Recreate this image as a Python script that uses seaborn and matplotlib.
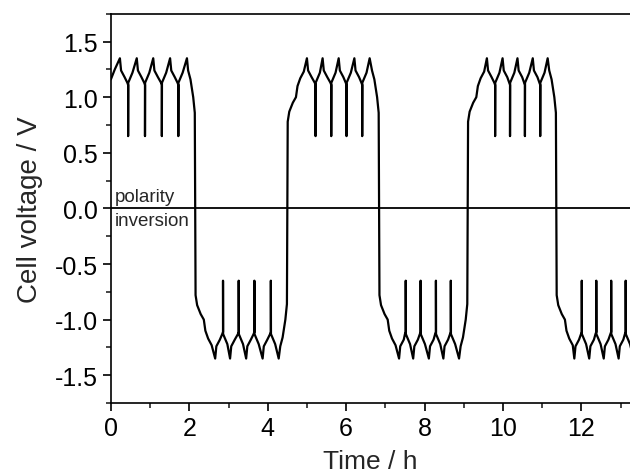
import numpy as np
import pandas as pd
import seaborn as sns
import matplotlib.pyplot as plt
from matplotlib.ticker import MultipleLocator

# polarity of each half cycle and the times where the cell voltage flips
phase_signs = [1, -1, 1, -1, 1, -1]
switch_times = [2.15, 4.50, 6.84, 9.10, 11.36]

# times of the five peaks (troughs) in each half cycle
extreme_times = [
    [0.23, 0.66, 1.08, 1.51, 1.94],
    [2.66, 3.04, 3.45, 3.87, 4.28],
    [5.00, 5.40, 5.81, 6.21, 6.60],
    [7.35, 7.71, 8.11, 8.48, 8.88],
    [9.59, 9.99, 10.37, 10.76, 11.14],
    [11.82, 12.20, 12.57, 12.95, 13.33],
]
# times of the short spikes between the peaks
spike_times = [
    [0.44, 0.87, 1.30, 1.72],
    [2.86, 3.26, 3.66, 4.08],
    [5.22, 5.62, 6.01, 6.41],
    [7.52, 7.90, 8.29, 8.67],
    [9.80, 10.18, 10.56, 10.95],
    [12.01, 12.38, 12.76, 13.13],
]

peak_v = 1.35
spike_v = 0.65

# curve right after a flip (offset from the flip time, |V|)
entry_dt = [0.01, 0.05, 0.14, 0.22, 0.26, 0.33, 0.42]
entry_v = [0.78, 0.87, 0.95, 1.00, 1.10, 1.17, 1.23]
# curve right before a flip
exit_dt = [-0.18, -0.12, -0.05, -0.01]
exit_v = [1.24, 1.16, 1.00, 0.86]
# very beginning of the record
start_t = [0.0, 0.10]
start_v = [1.16, 1.25]

t, v = [], []
for k, sign in enumerate(phase_signs):
    if k == 0:
        pts = list(zip(start_t, start_v))
    else:
        T = switch_times[k - 1]
        pts = [(T + dt, vv) for dt, vv in zip(entry_dt, entry_v)]
    peaks = extreme_times[k]
    spikes = spike_times[k]
    for i, P in enumerate(peaks):
        pts.append((P, peak_v))
        if i < len(spikes):
            S = spikes[i]
            pts += [(P + 0.03, 1.24), (P + 0.12, 1.18), (S - 0.02, 1.13), (S, 1.11),
                    (S, spike_v), (S + 0.003, 1.13), (S + 0.11, 1.22)]
    if k < len(switch_times):
        T = switch_times[k]
        pts += [(T + dt, vv) for dt, vv in zip(exit_dt, exit_v)]
    t += [p[0] for p in pts]
    v += [sign * p[1] for p in pts]

df = pd.DataFrame({"t": t, "v": v})

sns.set_style("ticks")
plt.rcParams['font.family'] = ['Liberation Sans', 'DejaVu Sans']

fig = plt.figure(figsize=(6.3, 4.77), dpi=100)
ax = fig.add_axes([0.176, 0.153, 0.824, 0.816])

sns.lineplot(data=df, x="t", y="v", sort=False, estimator=None, color="black", lw=1.6, ax=ax)
ax.axhline(0, color="black", lw=1.3)

ax.text(0.1, 0.03, "polarity", fontsize=13.5, va="bottom", ha="left")
ax.text(0.1, -0.03, "inversion", fontsize=13.5, va="top", ha="left")

ax.set_xlim(0, 13.24)
ax.set_ylim(-1.75, 1.75)
ax.xaxis.set_major_locator(MultipleLocator(2))
ax.xaxis.set_minor_locator(MultipleLocator(1))
ax.yaxis.set_major_locator(MultipleLocator(0.5))
ax.yaxis.set_minor_locator(MultipleLocator(0.25))
ax.yaxis.set_major_formatter(plt.FormatStrFormatter('%.1f'))

ax.tick_params(which="major", direction="out", length=6, width=1.2, labelsize=18, colors="black")
ax.tick_params(which="minor", direction="out", length=3.5, width=1.2)
for s in ["left", "bottom", "top"]:
    ax.spines[s].set_linewidth(1.2)
    ax.spines[s].set_color("black")
ax.spines["right"].set_visible(False)

ax.set_xlabel("Time / h", fontsize=19, labelpad=6)
ax.set_ylabel("Cell voltage / V", fontsize=20, labelpad=8)

fig.savefig("out.png", dpi=100)
